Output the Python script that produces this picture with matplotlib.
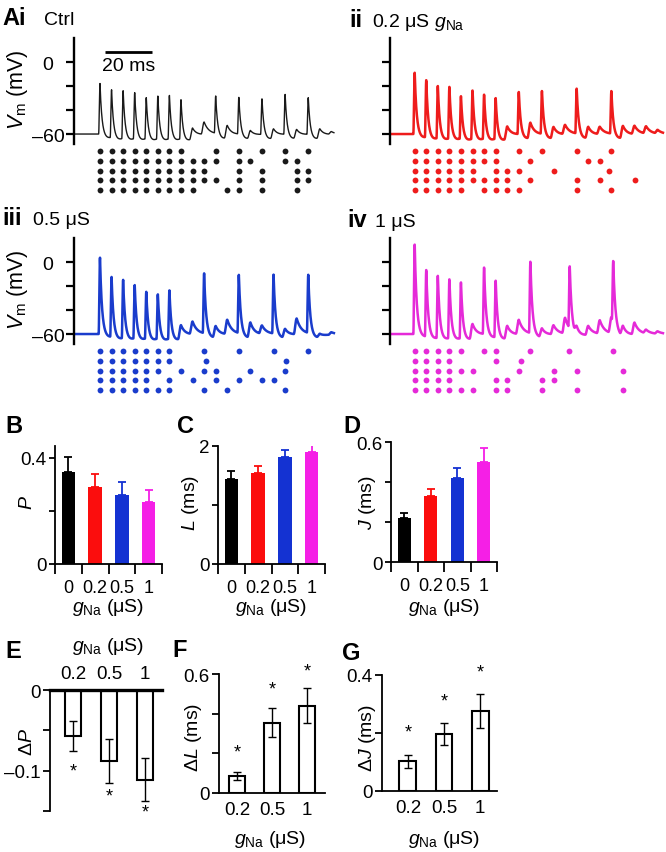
import numpy as np
import matplotlib
matplotlib.use('Agg')
import matplotlib.pyplot as plt

W, H = 666, 853
plt.rcParams['font.family'] = ['Liberation Sans', 'DejaVu Sans']
plt.rcParams['mathtext.fontset'] = 'custom'
plt.rcParams['mathtext.rm'] = 'Liberation Sans'
plt.rcParams['mathtext.it'] = 'Liberation Sans:italic'
plt.rcParams['mathtext.bf'] = 'Liberation Sans:bold'
plt.rcParams['axes.linewidth'] = 1.3

# ---------------- data ----------------
interval = 5.0  # ms between stimulus events

# peak Vm (mV) per stimulus event of the example trace; S=spike, E=EPSP, D=delayed spike
ctrl_peaks = [-17.7, -20.2, -20.2, -21.7, -25.8, -24.4, -23.9, -27.5, -51.1, -49.8, -28.9,
              -49.8, -29.4, -53.9, -30.3, -52.5, -26.7, -53.1, -29.4, -52.5, -57.8]
ctrl_types = 'SSSSSSSSEESESESESESEE'
g02_peaks = [-8.6, -12.3, -16.4, -16.9, -24.7, -19.7, -23.3, -26.1, -49.8, -24.7, -47.5,
             -24.2, -51.1, -52.3, -22.5, -51.1, -53.9, -24.4, -50.3, -53.1, -54.0, -57.0]
g02_types = 'SSSSSSSSESESEESEESEEEE'
g05_peaks = [3.9, -10.0, -11.4, -15.6, -21.1, -23.1, -19.7, -48.9, -49.6, -10.0, -50.8,
             -48.1, -11.4, -47.8, -53.1, -10.8, -53.1, -46.9, -11.4, -57.2, -58.0]
g05_types = 'SSSSSSSEESEESEESEESEE'
g1_peaks = [15.0, -4.4, -8.1, -10.8, -13.3, -48.1, -4.4, -12.8, -49.8, -48.1, -0.3,
            -53.0, -52.5, -0.3, -53.0, -52.5, -48.9, -0.3, -51.7, -50.3, -57.0, -58.0]
g1_types = 'SSSSSESSEESEEDEEEDEEEE'
g1_delays = [0, 0, 0, 0, 0, 0, 0, 0, 0, 0, 0, 0, 0, 2.0, 0, 0, 0, 0.8, 0, 0, 0, 0]

# raster: event number (1-based) of each spike in 5 trials
ctrl_raster = [[1, 2, 3, 4, 5, 6, 7, 8, 11, 13, 15, 17, 19],
               [1, 2, 3, 4, 5, 6, 7, 8, 9, 10, 11, 13, 14, 17, 18],
               [1, 2, 3, 4, 5, 6, 7, 8, 9, 10, 13, 15, 18, 19],
               [1, 2, 3, 4, 5, 6, 7, 8, 9, 10, 11, 13, 15, 18, 19],
               [1, 2, 3, 4, 5, 6, 7, 8, 9, 12, 13, 15, 18]]
g02_raster = [[1, 2, 3, 4, 5, 6, 7, 8, 10, 12, 15, 18],
              [1, 2, 3, 4, 5, 6, 7, 8, 11, 16, 17],
              [1, 2, 3, 4, 5, 6, 8, 9, 10, 13, 17.8],
              [1, 2, 3, 4, 5, 6, 7, 8, 9, 11, 15, 17, 20],
              [1, 2, 3, 4, 5, 7, 8, 9, 10, 15, 18]]
g05_raster = [[1, 2, 3, 4, 5, 6, 7, 10, 13, 16, 19],
              [1, 2, 3, 4, 5, 6, 7, 10.2, 17.1],
              [1, 2, 3, 4, 5, 6, 8, 10, 11, 14, 17],
              [1, 2, 3, 4, 5, 7, 9, 11, 13, 15, 16],
              [1, 2, 3, 4, 5, 6, 7, 10, 12, 17]]
g1_raster = [[1, 2, 3, 4, 5, 7, 8, 11, 14.3, 18.1],
             [1, 2, 3, 4, 8, 10.2],
             [1, 2, 3, 4, 5, 6, 10, 13, 15, 19],
             [1, 2, 3, 4, 8, 9, 12, 13],
             [1, 2, 3, 4, 5, 6, 8, 9, 12, 15, 19]]

cats = ['0', '0.2', '0.5', '1']
bar_colors = ['#000000', '#fb0d0d', '#1432d2', '#f51fe6']
P_mean = [0.347, 0.290, 0.260, 0.234]
P_err = [0.057, 0.050, 0.050, 0.046]
L_mean = [1.44, 1.54, 1.81, 1.90]
L_err = [0.14, 0.12, 0.12, 0.17]
J_mean = [0.220, 0.330, 0.420, 0.500]
J_err = [0.025, 0.035, 0.050, 0.070]

dcats = ['0.2', '0.5', '1']
dP_mean = [-0.057, -0.088, -0.111]
dP_err = [0.019, 0.027, 0.027]
dL_mean = [0.086, 0.355, 0.440]
dL_err = [0.022, 0.075, 0.088]
dJ_mean = [0.103, 0.197, 0.276]
dJ_err = [0.022, 0.038, 0.058]
dP_star = [-0.101, -0.132, -0.151]
dL_star = [0.207, 0.525, 0.616]
dJ_star = [0.203, 0.310, 0.410]

# ---------------- helpers ----------------
fig = plt.figure(figsize=(W / 100, H / 100), dpi=100)
YT_FS = 13.5
XT_FS = 13
LAB_FS = 14


def px_ax(x0, y0, x1, y1):
    return fig.add_axes([x0 / W, 1 - y1 / H, (x1 - x0) / W, (y1 - y0) / H])


def ftext(x, y, s, **kw):
    return fig.text(x / W, 1 - y / H, s, **kw)


def spike_k(s):
    out = np.zeros_like(s)
    r = (s >= -0.6) & (s < 0)
    out[r] = 0.5 * (1 + np.cos(np.pi * s[r] / 0.6))
    d = s >= 0
    out[d] = 0.6 * np.exp(-s[d] / 0.7) + 0.4 * np.exp(-s[d] / 1.8)
    return out


def ahp_k(s):
    out = np.zeros_like(s)
    d = s > 0
    x = s[d] / 2.2
    out[d] = x * np.exp(1 - x)
    return out


def epsp_k(s):
    out = np.zeros_like(s)
    r = (s >= -1.3) & (s < 0)
    out[r] = 0.5 * (1 + np.cos(np.pi * s[r] / 1.3))
    d = s >= 0
    out[d] = np.exp(-s[d] / 2.0)
    return out


def build_trace(peaks, types, t0, t1, delays=None):
    t = np.arange(t0, t1, 0.04)
    v = np.full_like(t, -60.0)
    for k, (pk, ty) in enumerate(zip(peaks, types)):
        te = k * interval
        amp = pk + 60.0
        if ty == 'S':
            v += amp * spike_k(t - te) - 6.0 * ahp_k(t - te)
        elif ty == 'E':
            v += amp * epsp_k(t - te)
        else:
            dl = delays[k]
            v += 13.0 * epsp_k(t - te)
            v += (amp - 8) * spike_k(t - te - dl) - 6.0 * ahp_k(t - te - dl)
    return t, v


px_per_ms = 11.57 / interval


def trace_panel(x_spine, y_top, x_first, x_right, x_end, peaks, types, raster, color, lw,
                labels, delays=None):
    ax = px_ax(x_spine, y_top, x_right, y_top + 106)
    t0 = -(x_first - x_spine) / px_per_ms
    t1 = (x_right - x_first) / px_per_ms
    tend = (x_end - x_first) / px_per_ms
    t, v = build_trace(peaks, types, t0, tend, delays)
    ax.plot(t, v, color=color, lw=lw, solid_joinstyle='round')
    ax.set_xlim(t0, t1)
    ax.set_ylim(-68.3, 20)
    for sp in ['top', 'right', 'bottom']:
        ax.spines[sp].set_visible(False)
    ax.spines['left'].set_linewidth(1.7)
    ax.set_xticks([])
    ax.set_yticks([-60, -40, -20, 0])
    ax.set_yticklabels(['–60', '', '', '0  '] if labels else ['', '', '', ''], fontsize=14)
    ax.tick_params(axis='y', length=6, width=1.6, pad=1)
    # raster
    rax = px_ax(x_spine, y_top + 108, x_right, y_top + 157)
    for r, row in enumerate(raster):
        xs = [(c - 1) * interval for c in row]
        rax.plot(xs, [r + 1] * len(xs), 'o', color=color, ms=4.2, mec='none')
    rax.set_xlim(t0, t1)
    rax.set_ylim(5.5, 0.5)
    rax.axis('off')
    return ax


axA = trace_panel(74, 39, 100, 340, 334, ctrl_peaks, ctrl_types, ctrl_raster, '#1a1a1a', 1.0, True)
axA.plot([2.3, 22.3], [8.3, 8.3], color='black', lw=2.0, solid_capstyle='butt')
axA.text(12.5, -2.5, '20 ms', ha='center', va='center', fontsize=14)
trace_panel(390, 39, 414.7, 665, 663, g02_peaks, g02_types, g02_raster, '#ee1c1c', 1.8, False)
trace_panel(74, 239, 100, 340, 334, g05_peaks, g05_types, g05_raster, '#1a3ccc', 1.8, True)
trace_panel(390, 239, 414.7, 665, 663, g1_peaks, g1_types, g1_raster, '#e52ad8', 1.8, False,
            delays=g1_delays)

ftext(2, 25, 'Ai', fontsize=17, fontweight='bold', va='baseline')
ftext(44, 25, 'Ctrl', fontsize=14, va='baseline')
ftext(349, 27, 'ii', fontsize=17, fontweight='bold', va='baseline')
ftext(372, 27, r'0.2 μS $g_{\mathrm{Na}}$', fontsize=14, va='baseline')
ftext(2, 225, 'iii', fontsize=17, fontweight='bold', va='baseline')
ftext(33, 225, '0.5 μS', fontsize=14, va='baseline')
ftext(347, 227, 'iv', fontsize=17, fontweight='bold', va='baseline')
ftext(375, 227, '1 μS', fontsize=14, va='baseline')
ftext(17, 90, r'$V_{\mathrm{m}}$ (mV)', rotation=90, ha='center', va='center', fontsize=15.5)
ftext(17, 290, r'$V_{\mathrm{m}}$ (mV)', rotation=90, ha='center', va='center', fontsize=15.5)


# ---------------- B, C, D ----------------
def bar_panel(rect, means, errs, ylim, yticks, ylabels):
    ax = px_ax(*rect)
    x = np.arange(len(means))
    ax.bar(x, means, width=0.5, color=bar_colors, zorder=2)
    for xi, m, e, c in zip(x, means, errs, bar_colors):
        ax.errorbar(xi, m, yerr=[[0], [e]], fmt='none', ecolor=c, elinewidth=1.3,
                    capsize=3, capthick=1.3, zorder=1)
    ax.set_xlim(-0.5, 3.5)
    ax.set_ylim(*ylim)
    for sp in ['top', 'right']:
        ax.spines[sp].set_visible(False)
    ax.set_xticks(np.arange(-0.5, 4, 1.0))
    ax.set_xticklabels([])
    ax.set_xticks(x, minor=True)
    ax.set_xticklabels(cats, minor=True, fontsize=XT_FS)
    ax.tick_params(axis='x', which='major', length=7, width=1.3, direction='out')
    ax.tick_params(axis='x', which='minor', length=0, pad=11)
    ax.set_yticks(yticks)
    ax.set_yticklabels(ylabels, fontsize=YT_FS)
    ax.tick_params(axis='y', length=4, width=1.3, pad=2)
    return ax


bar_panel((55, 447, 162, 565), P_mean, P_err, (0, 0.445), [0, 0.2, 0.4], ['0', '', '0.4'])
bar_panel((218, 447, 325, 565), L_mean, L_err, (0, 2.0), [0, 1, 2], ['0', '', '2'])
bar_panel((391, 443, 497, 563), J_mean, J_err, (0, 0.6), [0, 0.2, 0.4, 0.6],
          ['0', '', '', '0.6'])
ftext(5, 433, 'B', fontsize=17, fontweight='bold', va='baseline')
ftext(177, 433, 'C', fontsize=17, fontweight='bold', va='baseline')
ftext(343, 433, 'D', fontsize=17, fontweight='bold', va='baseline')
ftext(27, 503, r'$P$', rotation=90, ha='center', va='center', fontsize=LAB_FS)
ftext(191, 503, r'$L$ (ms)', rotation=90, ha='center', va='center', fontsize=LAB_FS)
ftext(367, 503, r'$J$ (ms)', rotation=90, ha='center', va='center', fontsize=LAB_FS)
for xc in (108, 271, 444):
    ftext(xc, 607, r'$g_{\mathrm{Na}}$ (μS)', ha='center', va='center', fontsize=LAB_FS)


# ---------------- E, F, G ----------------
def delta_panel(rect, means, errs, xlim, ylim, yticks, ylabels, stars, width, top=False):
    ax = px_ax(*rect)
    x = np.arange(len(means))
    ax.bar(x, means, width=width, color='white', edgecolor='black', linewidth=1.5, zorder=2)
    ax.errorbar(x, means, yerr=errs, fmt='none', ecolor='black', elinewidth=1.0,
                capsize=3, capthick=1.0, zorder=3)
    for xi, s in zip(x, stars):
        ax.text(xi, s, '*', ha='center', va='center', fontsize=13, clip_on=False)
    ax.set_xlim(*xlim)
    ax.set_ylim(*ylim)
    ax.spines['right'].set_visible(False)
    if top:
        ax.spines['bottom'].set_visible(False)
        ax.spines['top'].set_linewidth(2.4)
        ax.xaxis.tick_top()
    else:
        ax.spines['top'].set_visible(False)
    ax.set_xticks(x)
    ax.set_xticklabels(dcats, fontsize=YT_FS)
    ax.tick_params(axis='x', length=0, pad=6)
    ax.set_yticks(yticks)
    ax.set_yticklabels(ylabels, fontsize=YT_FS)
    ax.tick_params(axis='y', length=5, width=1.3, pad=2)
    return ax


delta_panel((50, 691, 162, 812), dP_mean, dP_err, (-0.64, 2.47), (-0.15, 0),
            [-0.15, -0.1, -0.05, 0], ['', '–0.1', '', '0'], dP_star, 0.45, top=True)
delta_panel((219, 675, 325, 794), dL_mean, dL_err, (-0.514, 2.514), (0, 0.6),
            [0, 0.2, 0.4, 0.6], ['0', '', '', '0.6'], dL_star, 0.48)
delta_panel((382, 676, 497, 792), dJ_mean, dJ_err, (-0.72, 2.47), (0, 0.4),
            [0, 0.2, 0.4], ['0', '', '0.4'], dJ_star, 0.47)
ftext(5, 658, 'E', fontsize=17, fontweight='bold', va='baseline')
ftext(172, 657, 'F', fontsize=17, fontweight='bold', va='baseline')
ftext(342, 660, 'G', fontsize=17, fontweight='bold', va='baseline')
ftext(108, 647, r'$g_{\mathrm{Na}}$ (μS)', ha='center', va='center', fontsize=LAB_FS)
ftext(270, 840, r'$g_{\mathrm{Na}}$ (μS)', ha='center', va='center', fontsize=LAB_FS)
ftext(444, 840, r'$g_{\mathrm{Na}}$ (μS)', ha='center', va='center', fontsize=LAB_FS)
ftext(27, 742, r'Δ$P$', rotation=90, ha='center', va='center', fontsize=LAB_FS)
ftext(194, 737, r'Δ$L$ (ms)', rotation=90, ha='center', va='center', fontsize=LAB_FS)
ftext(367, 738, r'Δ$J$ (ms)', rotation=90, ha='center', va='center', fontsize=LAB_FS)

fig.savefig('out.png', dpi=100)
